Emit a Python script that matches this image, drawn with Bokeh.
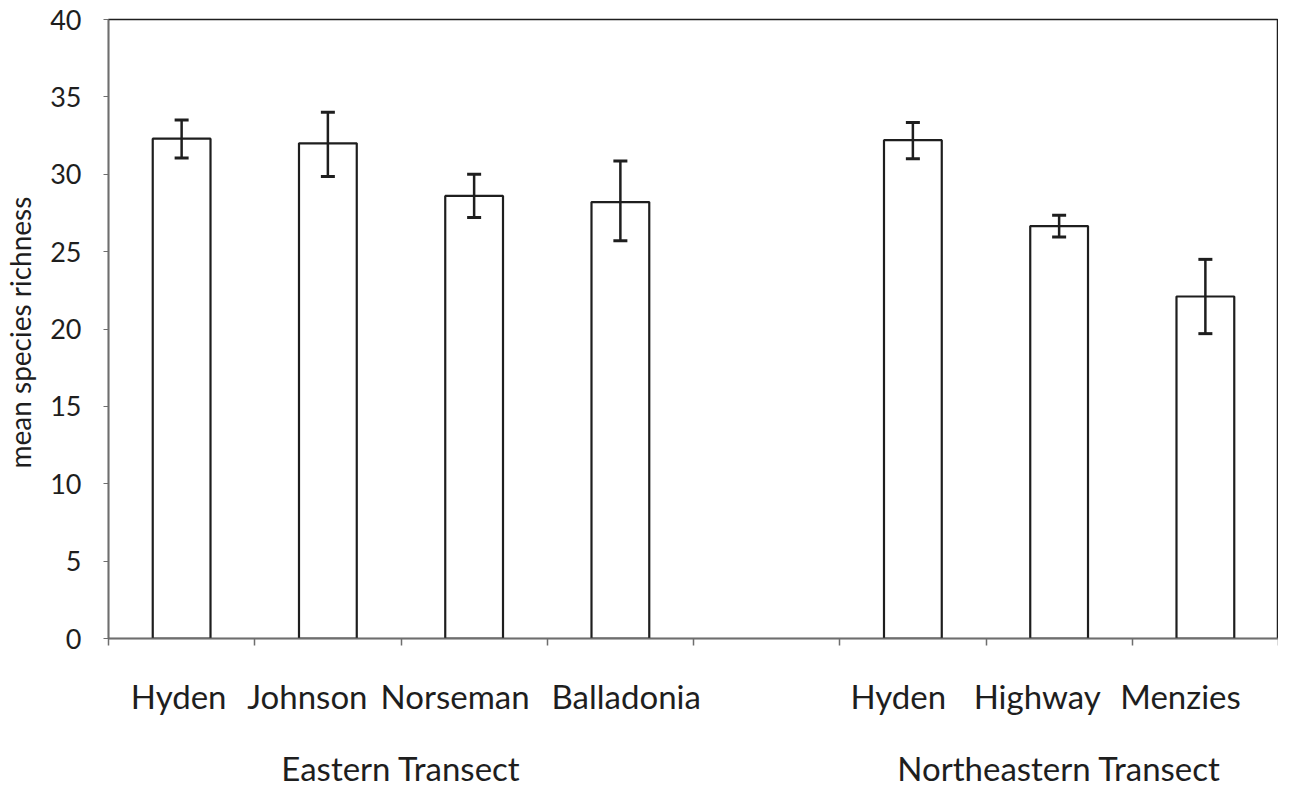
from bokeh.plotting import figure
from bokeh.models import ColumnDataSource, Range1d, FixedTicker, LinearAxis, Whisker
from bokeh.embed import file_html
from bokeh.resources import INLINE

# ---- data ----
east_sites = ["Hyden", "Johnson", "Norseman", "Balladonia"]
east_mean = [32.3, 32.0, 28.6, 28.2]
east_lower = [31.05, 29.85, 27.2, 25.7]
east_upper = [33.5, 34.0, 30.0, 30.85]

ne_sites = ["Hyden", "Highway", "Menzies"]
ne_mean = [32.2, 26.65, 22.1]
ne_lower = [31.0, 25.95, 19.7]
ne_upper = [33.35, 27.35, 24.5]

group_names = ["Eastern Transect", "Northeastern Transect"]
y_ticks = [0, 5, 10, 15, 20, 25, 30, 35, 40]

# style: horizontal nudge of each site label (in slot units), as typeset in the original
label_nudge = [-0.02, -0.14, -0.13, 0.04, -0.1, -0.15, -0.17]

# slot layout: east sites, one empty slot, northeastern sites
n_slots = len(east_sites) + 1 + len(ne_sites)
east_x = [i + 0.5 for i in range(len(east_sites))]
ne_x = [len(east_sites) + 1 + i + 0.5 for i in range(len(ne_sites))]
xs = east_x + ne_x
sites = east_sites + ne_sites
means = east_mean + ne_mean
lowers = east_lower + ne_lower
uppers = east_upper + ne_upper

src = ColumnDataSource(dict(x=xs, site=sites, mean=means, lower=lowers, upper=uppers))

FONT = "Lato"
INK = "#1e1e1e"
AXC = "#6e6e6e"

p = figure(width=1276, height=775, frame_width=1170, frame_height=619,
           x_range=Range1d(0, n_slots), y_range=Range1d(0, 40),
           output_backend="svg", toolbar_location=None,
           min_border_left=106, min_border_right=0, min_border_top=19, min_border_bottom=137)
p.xgrid.visible = False
p.ygrid.visible = False
p.outline_line_color = INK
p.outline_line_width = 1.5
p.background_fill_color = "white"
p.border_fill_color = "white"

p.vbar(x="x", top="mean", bottom=0, width=0.395, source=src,
       fill_color="white", line_color=INK, line_width=2.2)

w = Whisker(base="x", lower="lower", upper="upper", source=src,
            line_color=INK, line_width=2.5, level="overlay")
w.upper_head.size = 14
w.lower_head.size = 14
w.upper_head.line_width = 3
w.lower_head.line_width = 3
w.upper_head.line_color = INK
w.lower_head.line_color = INK
p.add_layout(w)

# y axis
ya = p.yaxis[0]
ya.ticker = FixedTicker(ticks=y_ticks, minor_ticks=[])
ya.axis_line_color = AXC
ya.axis_line_width = 1.5
ya.major_tick_line_color = AXC
ya.major_tick_in = 0
ya.major_tick_out = 5
ya.major_label_standoff = 22
ya.major_label_text_font = FONT
ya.major_label_text_font_size = "27px"
ya.major_label_text_color = INK
ya.axis_label = "mean species  richness"
ya.axis_label_text_font = FONT
ya.axis_label_text_font_size = "28px"
ya.axis_label_text_font_style = "normal"
ya.axis_label_text_color = INK
ya.axis_label_standoff = 10

# x axis: site labels under bars, boundary ticks as minor ticks
label_x = [x + d for x, d in zip(xs, label_nudge)]
xa = p.xaxis[0]
xa.ticker = FixedTicker(ticks=label_x, minor_ticks=list(range(n_slots + 1)))
xa.major_label_overrides = {x: s for x, s in zip(label_x, sites)}
xa.axis_line_color = AXC
xa.axis_line_width = 1.5
xa.major_tick_line_color = None
xa.minor_tick_line_color = AXC
xa.minor_tick_line_width = 1.5
xa.minor_tick_in = 0
xa.minor_tick_out = 7
xa.major_label_standoff = 30
xa.major_label_text_font = FONT
xa.major_label_text_font_size = "33px"
xa.major_label_text_color = INK

# group labels
gx = [sum(east_x) / len(east_x), sum(ne_x) / len(ne_x)]
ga = LinearAxis(ticker=FixedTicker(ticks=gx, minor_ticks=[]))
ga.major_label_overrides = {x: s for x, s in zip(gx, group_names)}
ga.axis_line_color = None
ga.major_tick_line_color = None
ga.minor_tick_line_color = None
ga.major_label_standoff = 23
ga.major_label_text_font = FONT
ga.major_label_text_font_size = "33px"
ga.major_label_text_color = INK
p.add_layout(ga, "below")

open("out.html", "w").write(file_html(p, INLINE))
